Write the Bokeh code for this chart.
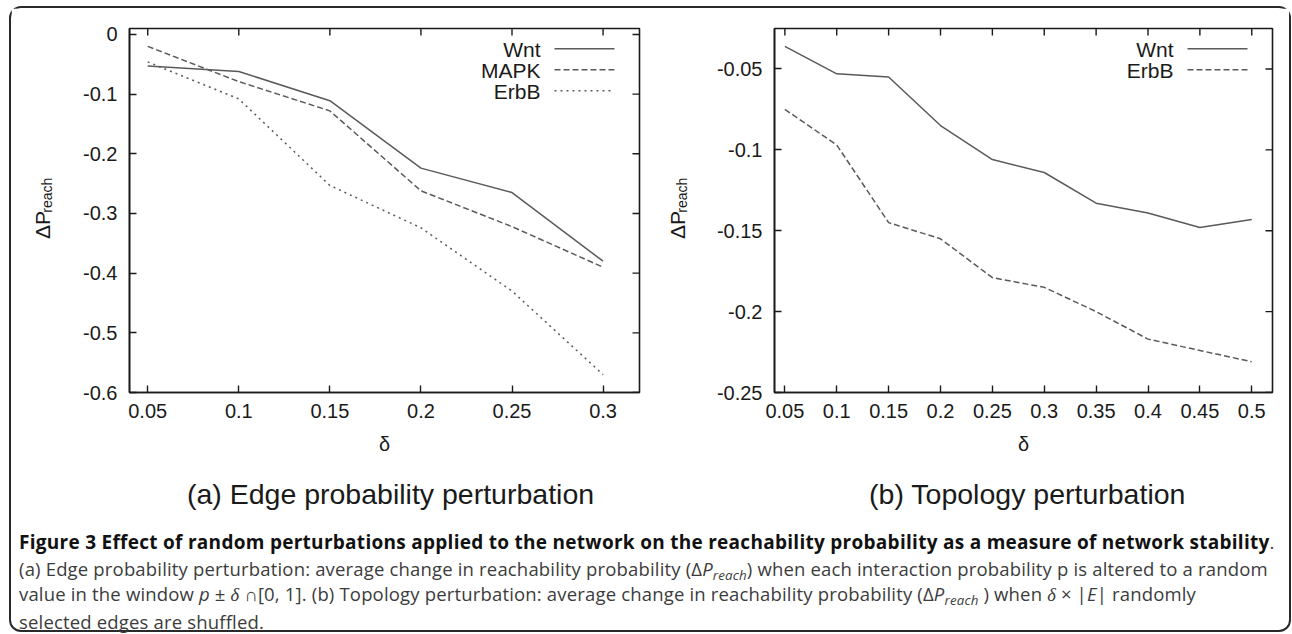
import math
from bokeh.plotting import figure
from bokeh.models import Range1d, LinearAxis, FixedTicker, Label, Arrow, Div
from bokeh.layouts import row, column
from bokeh.core.properties import value
from bokeh.embed import file_html
from bokeh.resources import INLINE

# ---------------- data ----------------
delta_a = [0.05, 0.1, 0.15, 0.2, 0.25, 0.3]
wnt_a = [-0.053, -0.062, -0.111, -0.224, -0.265, -0.380]
mapk_a = [-0.020, -0.079, -0.128, -0.262, -0.322, -0.390]
erbb_a = [-0.046, -0.108, -0.253, -0.324, -0.430, -0.570]

delta_b = [0.05, 0.1, 0.15, 0.2, 0.25, 0.3, 0.35, 0.4, 0.45, 0.5]
wnt_b = [-0.036, -0.053, -0.055, -0.085, -0.106, -0.114, -0.133, -0.139, -0.148, -0.143]
erbb_b = [-0.075, -0.097, -0.145, -0.155, -0.179, -0.185, -0.200, -0.217, -0.224, -0.231]

series_names_a = ["Wnt", "MAPK", "ErbB"]
series_names_b = ["Wnt", "ErbB"]

xticks_a = [0.05, 0.1, 0.15, 0.2, 0.25, 0.3]
xtick_labels_a = ["0.05", "0.1", "0.15", "0.2", "0.25", "0.3"]
yticks_a = [0.0, -0.1, -0.2, -0.3, -0.4, -0.5, -0.6]
ytick_labels_a = ["0", "-0.1", "-0.2", "-0.3", "-0.4", "-0.5", "-0.6"]

xticks_b = [0.05, 0.1, 0.15, 0.2, 0.25, 0.3, 0.35, 0.4, 0.45, 0.5]
xtick_labels_b = ["0.05", "0.1", "0.15", "0.2", "0.25", "0.3", "0.35", "0.4", "0.45", "0.5"]
yticks_b = [-0.05, -0.1, -0.15, -0.2, -0.25]
ytick_labels_b = ["-0.05", "-0.1", "-0.15", "-0.2", "-0.25"]

x_axis_title = "δ"
y_axis_title = "ΔP"
y_axis_sub = "reach"
subtitles = ["(a) Edge probability perturbation", "(b) Topology perturbation"]

# ---------------- style / layout ----------------
FONT = "Liberation Sans"
LINE_COLOR = "#5a5a5a"
AXIS_COLOR = "#1a1a1a"
TEXT_COLOR = "#1a1a1a"
ROW_H = 454
FRAME_TOP = 20
FRAME_H = 364
TICK = 7


def blank_fig(width, height):
    p = figure(width=width, height=height, x_range=Range1d(0, width), y_range=Range1d(0, height),
               output_backend="svg", toolbar_location=None,
               x_axis_location=None, y_axis_location=None,
               min_border=0, min_border_left=0, min_border_right=0,
               min_border_top=0, min_border_bottom=0)
    p.xgrid.visible = False
    p.ygrid.visible = False
    p.outline_line_color = None
    p.background_fill_color = "white"
    p.border_fill_color = "white"
    return p


def make_fig(width, xr, yr, min_left, min_right, xticks, xlabels, yticks, ylabels):
    frame_w = width - min_left - min_right
    p = figure(width=width, height=ROW_H, x_range=Range1d(*xr), y_range=Range1d(*yr),
               output_backend="svg", toolbar_location=None,
               x_axis_location=None, y_axis_location=None,
               min_border_left=min_left, min_border_right=min_right,
               min_border_top=FRAME_TOP, min_border_bottom=ROW_H - FRAME_TOP - FRAME_H)
    p.xgrid.visible = False
    p.ygrid.visible = False
    p.outline_line_color = AXIS_COLOR
    p.outline_line_width = 1.6
    p.background_fill_color = "white"
    p.border_fill_color = "white"

    def style(ax, ticks, labels):
        ax.ticker = FixedTicker(ticks=ticks)
        ax.major_label_overrides = {t: l for t, l in zip(ticks, labels)}
        ax.major_tick_in = TICK
        ax.major_tick_out = 0
        ax.minor_tick_line_color = None
        ax.axis_line_color = AXIS_COLOR
        ax.axis_line_width = 1.6
        ax.major_tick_line_color = AXIS_COLOR
        ax.major_tick_line_width = 1.4
        ax.major_label_text_font = FONT
        ax.major_label_text_font_size = "20px"
        ax.major_label_text_color = TEXT_COLOR

    xb = LinearAxis()
    style(xb, xticks, xlabels)
    xb.major_label_standoff = 11
    xb.axis_label = x_axis_title
    xb.axis_label_text_font = FONT
    xb.axis_label_text_font_style = "normal"
    xb.axis_label_text_font_size = "20px"
    xb.axis_label_text_color = TEXT_COLOR
    xb.axis_label_standoff = 12
    p.add_layout(xb, "below")

    yl = LinearAxis()
    style(yl, yticks, ylabels)
    yl.major_label_standoff = 12
    p.add_layout(yl, "left")

    # mirrored inward ticks on the top and right frame edges
    dy = (yr[1] - yr[0]) * TICK / FRAME_H
    dx = (xr[1] - xr[0]) * TICK / frame_w
    p.segment(x0=xticks, y0=[yr[1]] * len(xticks), x1=xticks, y1=[yr[1] - dy] * len(xticks),
              line_color=AXIS_COLOR, line_width=1.4)
    p.segment(x0=[xr[1]] * len(yticks), y0=yticks, x1=[xr[1] - dx] * len(yticks), y1=yticks,
              line_color=AXIS_COLOR, line_width=1.4)
    return p


def legend(p, names, dashes, text_right, top_y, sample_x0, sample_x1):
    # gnuplot-style key: right-aligned name, line sample to its right
    for i, (name, dash) in enumerate(zip(names, dashes)):
        ym = top_y - i * 21
        p.add_layout(Label(x=text_right, y=ym - 1, x_units="screen", y_units="screen",
                           text=name, text_align="right", text_baseline="middle",
                           text_font=FONT, text_font_size="21px", text_color=TEXT_COLOR))
        p.add_layout(Arrow(end=None, x_start=sample_x0, x_end=sample_x1,
                           y_start=ym, y_end=ym,
                           start_units="screen", end_units="screen",
                           line_color=LINE_COLOR, line_width=1.5, line_dash=dash))


def ylabel_fig(width, cx_main, cx_sub):
    p = blank_fig(width, ROW_H)
    p.text(x=[cx_main], y=[209], text=[y_axis_title], angle=math.pi / 2,
           text_align="center", text_baseline="middle",
           text_font=value(FONT), text_font_size="21px", text_color=TEXT_COLOR)
    p.text(x=[cx_sub], y=[246], text=[y_axis_sub], angle=math.pi / 2,
           text_align="center", text_baseline="middle",
           text_font=value(FONT), text_font_size="14px", text_color=TEXT_COLOR)
    return p


# ---------------- panel (a) ----------------
la = ylabel_fig(58, 30.5, 35)
fa = make_fig(576, (0.04, 0.32), (-0.6, 0.01), 60, 6,
              xticks_a, xtick_labels_a, yticks_a, ytick_labels_a)
dashes_a = ["solid", "6 3", "2 4"]
for ys, dash in zip([wnt_a, mapk_a, erbb_a], dashes_a):
    fa.line(delta_a, ys, line_color=LINE_COLOR, line_width=1.5, line_dash=dash)
legend(fa, series_names_a, dashes_a, 411, 343.7, 425, 485)

# ---------------- panel (b) ----------------
lb = ylabel_fig(55, 32, 36.5)
fb = make_fig(589, (0.04, 0.52), (-0.25, -0.025), 74, 17,
              xticks_b, xtick_labels_b, yticks_b, ytick_labels_b)
dashes_b = ["solid", "6 3"]
for ys, dash in zip([wnt_b, erbb_b], dashes_b):
    fb.line(delta_b, ys, line_color=LINE_COLOR, line_width=1.5, line_dash=dash)
legend(fb, series_names_b, dashes_b, 399, 343.7, 413, 473)

# ---------------- sub-figure titles ----------------
strip = blank_fig(1278, 52)
strip.text(x=[379, 1016], y=[21, 21], text=subtitles, text_align="center",
           text_baseline="middle", text_font=value(FONT),
           text_font_size="28.5px", text_color=TEXT_COLOR)

# ---------------- caption ----------------
sub = '<sub style="font-size:0.72em; line-height:0; vertical-align:-0.28em">reach</sub>'
caption_html = (
    '<div style="font-family:\'Open Sans\'; font-size:18.5px; letter-spacing:0.17px; line-height:25.5px;'
    ' color:#3c3c3c; white-space:nowrap; padding:10px 0 0 3px;">'
    '<b style="color:#111; font-weight:700; font-size:19px; letter-spacing:0.28px">Figure 3 Effect of random '
    'perturbations applied to the network on the reachability probability as a measure of network '
    'stability</b>.<br>'
    '(a) Edge probability perturbation: average change in reachability probability '
    '(&Delta;<i>P' + sub + '</i>) when each interaction probability p is altered to a random<br>'
    'value in the window <i>p</i> &plusmn; <i style="font-family:serif">&delta;</i> &cap;[0, 1]. '
    '(b) Topology perturbation: average change in reachability probability '
    '(&Delta;<i>P' + sub + '</i> ) when <i style="font-family:serif">&delta;</i> &times; |<i>E</i>| randomly<br>'
    'selected edges are shuffled.</div>'
)
cap = Div(text=caption_html, width=1278, height=116)

layout = column(row(la, fa, lb, fb), strip, cap, width=1282, height=626,
                styles={"border": "2px solid #2a2a2a", "border-radius": "12px",
                        "margin-left": "9px", "margin-top": "6px"})

open("out.html", "w").write(file_html(layout, INLINE))
